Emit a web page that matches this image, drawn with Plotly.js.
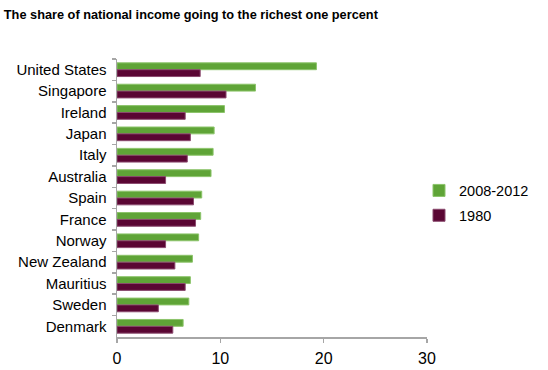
<!DOCTYPE html>
<html>
<head>
<meta charset="utf-8">
<script src="https://cdn.plot.ly/plotly-3.0.1.min.js"></script>
<style>html,body{margin:0;padding:0;background:#fff;}#chart{width:548px;height:370px;}</style>
</head>
<body>
<div id="chart"></div>
<script>
const countries = ["United States","Singapore","Ireland","Japan","Italy","Australia","Spain","France","Norway","New Zealand","Mauritius","Sweden","Denmark"];
const share2008_2012 = [19.3, 13.4, 10.4, 9.4, 9.3, 9.1, 8.2, 8.1, 7.9, 7.3, 7.1, 6.95, 6.4];
const share1980 = [8.05, 10.55, 6.6, 7.1, 6.8, 4.7, 7.4, 7.6, 4.7, 5.6, 6.6, 4.0, 5.4];
const seriesNames = ["2008-2012", "1980"];
const xTicks = [0, 10, 20, 30];

const font = "Liberation Sans, Arial, Helvetica, sans-serif";

const traces = [
  {
    type: "bar", orientation: "h",
    name: seriesNames[0], legendgroup: "a",
    y: countries, x: share2008_2012,
    marker: {color: "#5fa437", line: {color: "#8cc46a", width: 1}},
    hoverinfo: "x+y"
  },
  {
    type: "bar", orientation: "h",
    name: seriesNames[1], legendgroup: "b",
    y: countries, x: share1980,
    marker: {color: "#5a0633", line: {color: "#8a4a6e", width: 1}},
    hoverinfo: "x+y"
  }
];

const layout = {
  width: 548, height: 370,
  paper_bgcolor: "#fff", plot_bgcolor: "#fff",
  font: {family: font, color: "#000", size: 15},
  margin: {l: 117, r: 121, t: 59, b: 33, pad: 0, autoexpand: false},
  barmode: "group", bargap: 0.36, bargroupgap: 0,
  title: {
    text: "The share of national income going to the richest one percent",
    font: {family: font, size: 12.75, weight: "bold", color: "#000"},
    x: 0.007, xref: "container", xanchor: "left",
    y: 0.962, yref: "container", yanchor: "middle"
  },
  xaxis: {
    range: [0, 30], tickvals: xTicks, ticktext: xTicks.map(String),
    showgrid: false, zeroline: false,
    showline: true, linecolor: "#a6a6a6", linewidth: 1.5,
    ticks: "outside", ticklen: 4, tickcolor: "#a6a6a6", tickwidth: 1.5,
    tickfont: {size: 16, family: font, color: "#000"},
    ticklabelstandoff: 2,
    fixedrange: true
  },
  yaxis: {
    type: "category", autorange: "reversed",
    showgrid: false, zeroline: false,
    showline: true, linecolor: "#a6a6a6", linewidth: 1.5,
    ticks: "outside", ticklen: 4, tickcolor: "#a6a6a6", tickwidth: 1.5,
    tickson: "boundaries",
    tickfont: {size: 15, family: font, color: "#000"},
    ticklabelstandoff: 6,
    fixedrange: true
  },
  showlegend: true,
  legend: {
    x: 419 / 548, xref: "container", xanchor: "left",
    y: 0.482, yanchor: "middle",
    font: {size: 14.5, family: font, color: "#000"},
    traceorder: "grouped", tracegroupgap: 3,
    bgcolor: "rgba(0,0,0,0)", borderwidth: 0
  }
};

Plotly.newPlot("chart", traces, layout, {displayModeBar: false, staticPlot: true});
</script>
</body>
</html>
